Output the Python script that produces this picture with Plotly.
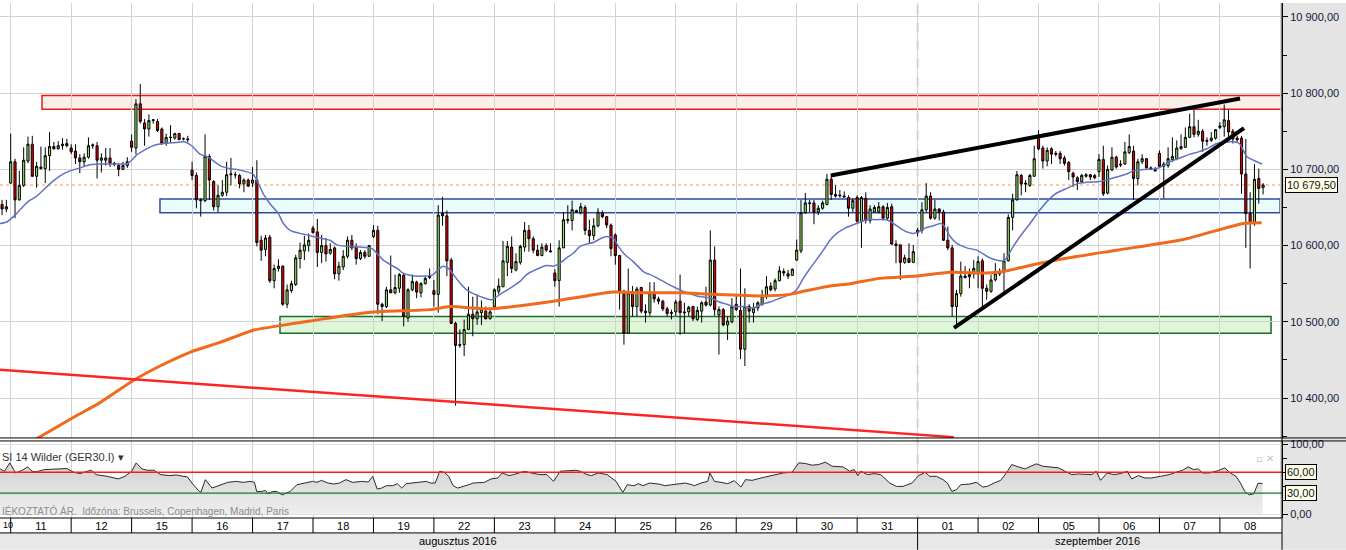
import plotly.graph_objects as go

# ---------------- data ----------------
day_labels = ['10', '11', '12', '15', '16', '17', '18', '19', '22', '23', '24',
              '25', '26', '29', '30', '31', '01', '02', '05', '06', '07', '08']
first_slot = [12] + [0] * 21          # first visible hourly slot of each day
n_candles = [2] + [14] * 20 + [11]    # visible hourly candles per day
SLOTS = 14                            # hourly candles per session

opens = [
    10654, 10648,
    10682, 10710, 10660, 10679, 10711, 10733, 10691, 10703, 10701, 10718, 10730, 10727, 10731, 10731,
    10728, 10724, 10715, 10710, 10716, 10731, 10731, 10712, 10712, 10715, 10708, 10705, 10700, 10705,
    10737, 10728, 10786, 10761, 10753, 10764, 10763, 10753, 10734, 10742, 10741, 10747, 10740, 10740,
    10699, 10692, 10660, 10659, 10717, 10684, 10651, 10666, 10670, 10693, 10693, 10692, 10681, 10686,
    10682, 10686, 10607, 10595, 10611, 10554, 10570, 10573, 10523, 10541, 10549, 10583, 10593, 10600,
    10623, 10618, 10591, 10600, 10590, 10597, 10563, 10572, 10586, 10607, 10598, 10583, 10591, 10586,
    10612, 10620, 10523, 10520, 10542, 10538, 10544, 10561, 10505, 10542, 10552, 10538, 10550, 10558,
    10541, 10536, 10642, 10639, 10581, 10498, 10469, 10470, 10490, 10510, 10504, 10512, 10514, 10504,
    10520, 10540, 10546, 10578, 10598, 10568, 10578, 10598, 10620, 10609, 10594, 10587, 10600, 10593,
    10564, 10554, 10597, 10633, 10633, 10646, 10643, 10650, 10620, 10613, 10626, 10643, 10638, 10627,
    10614, 10587, 10540, 10485, 10539, 10520, 10545, 10514, 10512, 10538, 10530, 10527, 10517, 10511,
    10513, 10527, 10513, 10513, 10520, 10503, 10514, 10526, 10522, 10581, 10509, 10516, 10496, 10500,
    10523, 10515, 10464, 10520, 10512, 10518, 10523, 10533, 10547, 10543, 10554, 10566, 10563, 10561,
    10581, 10593, 10643, 10655, 10656, 10644, 10649, 10654, 10687, 10667, 10665, 10665, 10663, 10649,
    10663, 10632, 10662, 10633, 10644, 10644, 10651, 10636, 10651, 10602, 10601, 10578, 10583, 10578,
    10617, 10620, 10647, 10665, 10636, 10648, 10644, 10607, 10597, 10520, 10537, 10560, 10559, 10563,
    10563, 10580, 10544, 10540, 10555, 10563, 10565, 10580, 10637, 10660, 10692, 10682, 10679, 10691,
    10744, 10728, 10711, 10727, 10721, 10721, 10715, 10709, 10695, 10689, 10684, 10691, 10693, 10692,
    10697, 10713, 10669, 10699, 10716, 10707, 10707, 10722, 10724, 10688, 10710, 10714, 10702, 10700,
    10721, 10704, 10705, 10713, 10714, 10727, 10729, 10742, 10756, 10746, 10750, 10738, 10738, 10741,
    10755, 10756, 10764, 10750, 10741, 10741, 10694, 10642, 10629, 10688, 10676,
]
highs = [
    10660, 10660,
    10747, 10714, 10698, 10729, 10743, 10744, 10710, 10730, 10729, 10749, 10736, 10737, 10741, 10740,
    10733, 10733, 10720, 10721, 10742, 10734, 10736, 10721, 10728, 10728, 10710, 10707, 10710, 10716,
    10746, 10792, 10812, 10766, 10772, 10766, 10766, 10755, 10747, 10758, 10748, 10748, 10742, 10744,
    10710, 10696, 10662, 10746, 10720, 10686, 10679, 10686, 10710, 10715, 10697, 10694, 10688, 10688,
    10703, 10712, 10613, 10614, 10614, 10575, 10582, 10574, 10549, 10554, 10588, 10604, 10613, 10616,
    10626, 10635, 10614, 10610, 10603, 10599, 10579, 10594, 10612, 10614, 10603, 10594, 10594, 10601,
    10627, 10626, 10525, 10546, 10587, 10562, 10564, 10564, 10544, 10562, 10554, 10552, 10560, 10570,
    10555, 10653, 10664, 10646, 10584, 10500, 10490, 10503, 10546, 10533, 10536, 10528, 10520, 10518,
    10544, 10557, 10606, 10606, 10612, 10590, 10601, 10631, 10627, 10612, 10601, 10603, 10603, 10603,
    10569, 10607, 10644, 10653, 10659, 10647, 10656, 10653, 10634, 10636, 10649, 10646, 10639, 10629,
    10616, 10588, 10542, 10570, 10547, 10546, 10546, 10523, 10552, 10552, 10533, 10529, 10520, 10516,
    10529, 10562, 10525, 10521, 10521, 10520, 10527, 10546, 10620, 10599, 10520, 10518, 10507, 10531,
    10536, 10570, 10544, 10523, 10525, 10527, 10542, 10560, 10552, 10557, 10573, 10570, 10568, 10570,
    10608, 10660, 10669, 10660, 10660, 10653, 10659, 10694, 10692, 10679, 10673, 10671, 10666, 10662,
    10666, 10665, 10670, 10653, 10653, 10657, 10653, 10656, 10655, 10607, 10601, 10588, 10603, 10601,
    10623, 10657, 10682, 10670, 10660, 10649, 10647, 10625, 10601, 10542, 10579, 10573, 10570, 10581,
    10586, 10583, 10549, 10562, 10577, 10570, 10590, 10641, 10668, 10698, 10694, 10686, 10694, 10731,
    10751, 10731, 10729, 10729, 10724, 10724, 10718, 10711, 10697, 10691, 10694, 10695, 10694, 10694,
    10720, 10731, 10705, 10729, 10718, 10712, 10736, 10746, 10731, 10714, 10720, 10715, 10704, 10703,
    10725, 10710, 10729, 10742, 10738, 10746, 10755, 10773, 10778, 10765, 10753, 10742, 10749, 10753,
    10762, 10785, 10778, 10753, 10744, 10744, 10740, 10670, 10707, 10701, 10682,
]
lows = [
    10640, 10644,
    10681, 10636, 10659, 10677, 10708, 10690, 10676, 10700, 10682, 10698, 10726, 10726, 10726, 10729,
    10720, 10707, 10695, 10703, 10714, 10727, 10688, 10696, 10705, 10703, 10704, 10691, 10699, 10702,
    10723, 10720, 10760, 10731, 10743, 10760, 10749, 10732, 10731, 10736, 10739, 10739, 10738, 10736,
    10686, 10649, 10638, 10657, 10660, 10646, 10644, 10664, 10665, 10679, 10688, 10675, 10670, 10677,
    10677, 10599, 10580, 10586, 10551, 10544, 10566, 10521, 10518, 10538, 10547, 10570, 10581, 10592,
    10616, 10572, 10577, 10579, 10588, 10556, 10554, 10568, 10583, 10594, 10575, 10581, 10583, 10585,
    10610, 10510, 10501, 10518, 10538, 10536, 10538, 10494, 10500, 10540, 10531, 10532, 10549, 10556,
    10520, 10512, 10626, 10560, 10497, 10390, 10466, 10455, 10489, 10481, 10496, 10496, 10503, 10503,
    10518, 10536, 10546, 10560, 10564, 10566, 10575, 10592, 10592, 10590, 10586, 10586, 10592, 10591,
    10546, 10520, 10597, 10629, 10620, 10643, 10641, 10614, 10603, 10607, 10624, 10636, 10623, 10586,
    10575, 10516, 10470, 10484, 10507, 10507, 10511, 10499, 10508, 10525, 10523, 10514, 10507, 10503,
    10507, 10483, 10485, 10507, 10501, 10501, 10499, 10520, 10520, 10508, 10457, 10494, 10476, 10498,
    10514, 10451, 10442, 10499, 10499, 10514, 10521, 10530, 10540, 10540, 10553, 10560, 10556, 10560,
    10580, 10590, 10642, 10644, 10628, 10640, 10647, 10653, 10660, 10663, 10663, 10663, 10638, 10644,
    10630, 10597, 10629, 10629, 10643, 10642, 10633, 10633, 10601, 10577, 10555, 10576, 10577, 10577,
    10612, 10616, 10644, 10634, 10634, 10633, 10606, 10594, 10507, 10494, 10533, 10557, 10544, 10557,
    10544, 10518, 10529, 10538, 10553, 10560, 10538, 10579, 10620, 10659, 10666, 10670, 10677, 10690,
    10725, 10701, 10704, 10707, 10717, 10707, 10705, 10686, 10677, 10673, 10682, 10689, 10686, 10687,
    10690, 10665, 10667, 10698, 10701, 10703, 10706, 10720, 10660, 10679, 10707, 10701, 10699, 10697,
    10703, 10662, 10702, 10710, 10712, 10726, 10728, 10741, 10742, 10743, 10723, 10731, 10736, 10739,
    10753, 10743, 10740, 10734, 10736, 10668, 10597, 10570, 10626, 10655, 10667,
]
closes = [
    10648, 10651,
    10710, 10660, 10679, 10712, 10733, 10691, 10704, 10701, 10718, 10730, 10727, 10731, 10733, 10734,
    10723, 10715, 10710, 10716, 10731, 10732, 10712, 10715, 10715, 10708, 10707, 10700, 10705, 10710,
    10729, 10786, 10763, 10753, 10764, 10765, 10751, 10734, 10742, 10742, 10747, 10739, 10740, 10739,
    10692, 10660, 10659, 10717, 10686, 10651, 10666, 10670, 10693, 10694, 10693, 10681, 10686, 10678,
    10686, 10604, 10594, 10610, 10554, 10570, 10573, 10523, 10542, 10550, 10584, 10594, 10601, 10607,
    10617, 10591, 10600, 10589, 10595, 10563, 10573, 10586, 10607, 10597, 10583, 10591, 10586, 10600,
    10620, 10523, 10520, 10542, 10538, 10545, 10562, 10507, 10542, 10553, 10539, 10550, 10557, 10560,
    10536, 10640, 10639, 10580, 10498, 10469, 10470, 10490, 10510, 10504, 10513, 10517, 10504, 10513,
    10542, 10547, 10580, 10599, 10570, 10579, 10599, 10620, 10609, 10594, 10587, 10598, 10594, 10592,
    10554, 10597, 10634, 10634, 10647, 10644, 10651, 10620, 10613, 10626, 10644, 10638, 10627, 10596,
    10587, 10540, 10485, 10538, 10520, 10543, 10514, 10512, 10538, 10530, 10527, 10517, 10511, 10512,
    10526, 10512, 10512, 10519, 10504, 10515, 10525, 10522, 10581, 10516, 10516, 10496, 10501, 10520,
    10516, 10464, 10520, 10514, 10518, 10525, 10534, 10546, 10542, 10554, 10567, 10564, 10560, 10569,
    10594, 10643, 10656, 10656, 10644, 10649, 10656, 10687, 10667, 10665, 10666, 10664, 10649, 10659,
    10632, 10663, 10633, 10648, 10650, 10651, 10636, 10650, 10602, 10600, 10578, 10584, 10578, 10592,
    10620, 10647, 10665, 10636, 10648, 10644, 10607, 10597, 10520, 10537, 10560, 10558, 10562, 10570,
    10579, 10544, 10540, 10555, 10563, 10564, 10580, 10637, 10660, 10693, 10681, 10681, 10692, 10714,
    10727, 10711, 10725, 10720, 10720, 10714, 10708, 10697, 10690, 10684, 10692, 10693, 10690, 10689,
    10713, 10668, 10700, 10716, 10703, 10706, 10723, 10730, 10688, 10710, 10714, 10702, 10700, 10698,
    10704, 10707, 10714, 10717, 10728, 10730, 10742, 10756, 10746, 10750, 10737, 10737, 10741, 10752,
    10757, 10765, 10749, 10740, 10739, 10694, 10642, 10629, 10687, 10675, 10679.5,
]

# fast moving average (blue): position in days, value
ma_fast_x = [0.823, 0.934, 1.071, 1.154, 1.291, 1.430, 1.567, 1.705, 1.870, 1.981,
             2.146, 2.312, 2.477, 2.642, 2.808, 2.919, 3.001, 3.084, 3.249, 3.387,
             3.524, 3.689, 3.883, 3.994, 4.131, 4.268, 4.462, 4.627, 4.793, 5.003,
             5.069, 5.178, 5.289, 5.426, 5.509, 5.620, 5.785, 5.950, 6.170, 6.281,
             6.392, 6.557, 6.777, 6.943, 6.997, 7.054, 7.163, 7.302, 7.411, 7.467,
             7.604, 7.824, 7.990, 8.073, 8.155, 8.238, 8.321, 8.431, 8.542, 8.680,
             8.845, 8.956, 9.093, 9.258, 9.424, 9.534, 9.700, 9.865, 9.975, 10.085,
             10.196, 10.306, 10.417, 10.527, 10.636, 10.775, 10.858, 10.967, 11.050, 11.161,
             11.298, 11.463, 11.629, 11.794, 11.960, 12.125, 12.346, 12.594, 12.687, 12.843,
             12.952, 13.118, 13.283, 13.422, 13.559, 13.725, 13.890, 14.000, 14.110, 14.220,
             14.331, 14.441, 14.551, 14.662, 14.800, 14.993, 15.158, 15.323, 15.489, 15.598,
             15.709, 15.820, 15.930, 16.013, 16.123, 16.261, 16.372, 16.427, 16.538, 16.648,
             16.814, 16.979, 17.145, 17.255, 17.417, 17.474, 17.584, 17.694, 17.860, 18.025,
             18.191, 18.301, 18.466, 18.632, 18.797, 19.017, 19.128, 19.293, 19.459, 19.568,
             19.734, 19.955, 20.066, 20.176, 20.341, 20.507, 20.643, 20.783, 20.948, 21.113,
             21.251, 21.322, 21.444, 21.554, 21.698]
ma_fast_y = [10629, 10631, 10640, 10647, 10658, 10665, 10675, 10685, 10694, 10698,
             10702, 10706, 10707, 10707, 10707, 10707, 10712, 10719, 10727, 10732,
             10734, 10735, 10736, 10731, 10720, 10716, 10705, 10701, 10699, 10694,
             10686, 10668, 10655, 10642, 10629, 10620, 10616, 10613, 10609, 10607,
             10601, 10599, 10598, 10597, 10595, 10590, 10581, 10574, 10569, 10565,
             10561, 10560, 10562, 10569, 10573, 10570, 10562, 10551, 10542, 10536,
             10531, 10529, 10536, 10544, 10553, 10562, 10569, 10574, 10573, 10577,
             10584, 10590, 10599, 10602, 10604, 10610, 10612, 10610, 10599, 10588,
             10579, 10566, 10560, 10553, 10546, 10540, 10534, 10531, 10527, 10523,
             10520, 10520, 10518, 10523, 10526, 10531, 10536, 10542, 10557, 10570,
             10582, 10594, 10607, 10616, 10623, 10629, 10634, 10634, 10634, 10629,
             10623, 10618, 10616, 10618, 10623, 10626, 10629, 10627, 10612, 10603,
             10597, 10594, 10586, 10582, 10580, 10584, 10599, 10612, 10629, 10647,
             10662, 10669, 10675, 10681, 10683, 10684, 10686, 10690, 10694, 10698,
             10700, 10701, 10705, 10710, 10715, 10720, 10723, 10727, 10734, 10736,
             10736, 10734, 10717, 10712, 10707]

# slow moving average (orange)
ma_slow_x = [1.154, 2.092, 2.477, 3.028, 3.469, 3.965, 4.462, 5.013, 5.454, 5.950,
             6.501, 6.997, 7.935, 8.266, 8.873, 9.424, 9.975, 10.527, 10.967, 11.408,
             12.070, 12.621, 13.448, 13.890, 14.110, 14.551, 14.882, 15.378, 15.985, 16.537,
             17.144, 17.417, 17.805, 18.355, 19.293, 20.395, 21.387, 21.691]
ma_slow_y = [10334, 10377, 10394, 10423, 10442, 10460, 10473, 10489, 10495, 10501,
             10508, 10513, 10516, 10520, 10517, 10521, 10527, 10534, 10539, 10538,
             10538, 10536, 10534, 10536, 10540, 10547, 10550, 10557, 10560, 10565,
             10564, 10566, 10573, 10582, 10594, 10608, 10629, 10630]

# RSI 14 Wilder
rsi_x = [0.823, 0.897, 0.985, 1.081, 1.192, 1.281, 1.355, 1.414, 1.561, 1.709,
         1.931, 2.041, 2.152, 2.263, 2.337, 2.411, 2.595, 2.780, 2.890, 3.001,
         3.075, 3.171, 3.260, 3.370, 3.481, 3.629, 3.740, 3.850, 3.924, 3.998,
         4.109, 4.146, 4.220, 4.330, 4.441, 4.515, 4.589, 4.737, 4.847, 4.958,
         5.032, 5.069, 5.143, 5.216, 5.253, 5.327, 5.401, 5.490, 5.623, 5.733,
         5.918, 5.992, 6.066, 6.140, 6.250, 6.346, 6.435, 6.546, 6.656, 6.804,
         6.915, 6.988, 7.062, 7.136, 7.210, 7.321, 7.395, 7.468, 7.542, 7.653,
         7.764, 7.875, 7.948, 8.022, 8.096, 8.170, 8.244, 8.318, 8.392, 8.502,
         8.576, 8.650, 8.761, 8.835, 8.945, 9.056, 9.130, 9.241, 9.315, 9.425,
         9.499, 9.610, 9.757, 9.868, 9.979, 10.090, 10.200, 10.348, 10.422, 10.533,
         10.607, 10.717, 10.865, 11.013, 11.124, 11.197, 11.308, 11.382, 11.456, 11.567,
         11.714, 11.825, 11.936, 12.047, 12.157, 12.268,
         12.308, 12.418, 12.528, 12.565, 12.639, 12.749, 12.859, 12.969, 13.079, 13.153,
         13.263, 13.410, 13.520, 13.666, 13.777, 13.923, 14.034, 14.144, 14.254, 14.364,
         14.474, 14.584, 14.768, 14.878, 14.951, 15.010, 15.061, 15.172, 15.282, 15.392,
         15.539, 15.649, 15.759, 15.906, 16.016, 16.126, 16.200, 16.310, 16.420, 16.493,
         16.567, 16.640, 16.713, 16.860, 16.970, 17.081, 17.154, 17.264, 17.374, 17.448,
         17.558, 17.668, 17.778, 17.874, 17.962, 18.072, 18.182, 18.329, 18.439, 18.549,
         18.659, 18.769, 18.879, 18.953, 19.026, 19.136, 19.247, 19.357, 19.467, 19.540,
         19.650, 19.761, 19.871, 20.017, 20.164, 20.274, 20.385, 20.473, 20.568, 20.642,
         20.715, 20.825, 20.972, 21.082, 21.155, 21.266, 21.339, 21.412, 21.486, 21.559,
         21.633, 21.706]
rsi_y = [64.8, 61.5, 73.5, 59.0, 62.9, 67.7, 61.5, 60.5, 63.9, 64.8,
         65.3, 60.0, 58.1, 61.5, 62.9, 56.6, 54.2, 50.4, 54.2, 61.5,
         73.5, 64.8, 62.9, 62.9, 56.6, 55.2, 56.1, 54.2, 53.2, 44.5,
         33.4, 31.4, 49.4, 37.3, 40.7, 42.1, 45.5, 46.9, 45.5, 46.9,
         45.5, 32.4, 32.4, 33.9, 29.0, 32.4, 32.4, 27.6, 32.4, 42.1,
         45.5, 46.9, 45.5, 48.4, 44.5, 43.1, 44.5, 49.4, 45.5, 46.9,
         46.0, 54.2, 35.8, 37.3, 40.7, 40.7, 43.6, 37.3, 43.6, 44.5,
         45.5, 46.9, 44.5, 44.5, 61.5, 60.0, 54.2, 40.7, 37.3, 39.7,
         42.1, 44.5, 44.5, 45.5, 50.4, 51.8, 59.0, 55.2, 56.6, 59.0,
         61.5, 59.0, 56.6, 56.6, 46.9, 61.5, 62.4, 62.9, 61.5, 56.6,
         55.2, 59.0, 56.6, 46.9, 31.0, 42.1, 40.7, 43.6, 40.7, 44.5,
         43.1, 40.7, 42.1, 43.1, 44.5, 42.1,
         40.7, 44.5, 46.9, 59.0, 46.9, 45.5, 43.6, 47.9, 38.7, 49.4,
         48.4, 51.8, 54.2, 56.6, 59.0, 60.0, 73.5, 72.6, 70.2, 71.1,
         74.5, 68.7, 67.7, 61.5, 63.9, 55.2, 61.5, 56.6, 58.1, 56.6,
         44.5, 39.7, 39.7, 44.5, 55.2, 60.0, 54.2, 54.2, 49.4, 44.5,
         32.4, 34.8, 42.1, 43.1, 45.5, 38.7, 39.7, 44.5, 48.4, 56.6,
         71.1, 67.7, 64.8, 68.7, 72.1, 68.7, 67.7, 66.3, 61.5, 56.6,
         57.6, 56.6, 56.6, 61.5, 48.4, 59.0, 56.6, 58.1, 61.5, 50.4,
         55.2, 51.8, 51.8, 54.2, 56.6, 60.0, 62.9, 67.7, 63.9, 64.8,
         59.0, 59.0, 62.4, 66.3, 60.0, 54.2, 44.5, 32.4, 27.6, 29.0,
         44.5, 43.6]

last_price = 10679.5
price_ticks = [10400, 10500, 10600, 10700, 10800, 10900]
price_tick_text = ['10 400,00', '10 500,00', '10 600,00', '10 700,00', '10 800,00', '10 900,00']
rsi_levels = [60, 30]

# drawn analysis objects (day position, price)
zone_red = dict(x0=1.518, x1=22.5, y0=10779, y1=10797)
zone_blue = dict(x0=3.469, x1=21.995, y0=10643, y1=10661)
zone_green = dict(x0=5.454, x1=21.846, y0=10485, y1=10507)
trend_red = dict(x0=0.823, y0=10437, x1=16.6, y1=10348.7)
trend_top = dict(x0=14.564, y0=10692, x1=21.333, y1=10793)
trend_bottom = dict(x0=16.602, y0=10492, x1=21.399, y1=10754)

# ---------------- geometry ----------------
W, H = 1346, 550
ML, MR, MT, MB = 0, 64, 0, 32
PW, PH = W - ML - MR, H - MT - MB      # 1282 x 518


def py(Y):
    return (PH - Y) / PH


def px(X):
    return X / PW


xs = []
for d, (s, n) in enumerate(zip(first_slot, n_candles)):
    for i in range(n):
        xs.append(d + (s + i) / SLOTS)

FONT = 'Liberation Sans, Arial, sans-serif'

fig = go.Figure()
fig.add_trace(go.Candlestick(
    x=xs, open=opens, high=highs, low=lows, close=closes,
    increasing=dict(line=dict(color='#000000', width=1), fillcolor='#93e263'),
    decreasing=dict(line=dict(color='#000000', width=1), fillcolor='#e30000'),
    whiskerwidth=0, showlegend=False, hoverinfo='skip', xaxis='x', yaxis='y'))
fig.add_trace(go.Scatter(x=ma_fast_x, y=ma_fast_y, mode='lines',
                         line=dict(color='#6272c4', width=1.5, shape='spline', smoothing=0.6),
                         showlegend=False, hoverinfo='skip', xaxis='x', yaxis='y'))
fig.add_trace(go.Scatter(x=ma_slow_x, y=ma_slow_y, mode='lines',
                         line=dict(color='#f06a1c', width=3, shape='spline', smoothing=0.6),
                         showlegend=False, hoverinfo='skip', xaxis='x', yaxis='y'))
fig.add_trace(go.Scatter(x=rsi_x, y=rsi_y, mode='lines', fill='tozeroy',
                         fillgradient=dict(type='vertical',
                                           colorscale=[[0, 'rgba(238,238,238,1)'],
                                                       [1, 'rgba(210,210,210,1)']]),
                         line=dict(color='#2a2a2a', width=1),
                         showlegend=False, hoverinfo='skip', xaxis='x', yaxis='y2'))

shapes = []
# zones
for z, fc, lc in [(zone_red, '#fbefea', '#e31c1c'),
                  (zone_blue, '#eafcfc', '#2f4c9f'),
                  (zone_green, '#e0f6d8', '#1d6a34')]:
    shapes.append(dict(type='rect', xref='x', yref='y', layer='below',
                       x0=z['x0'], x1=z['x1'], y0=z['y0'], y1=z['y1'],
                       fillcolor=fc, line=dict(color=lc, width=1.5)))
# last price dotted line
shapes.append(dict(type='line', xref='paper', yref='y', x0=0, x1=1, y0=last_price, y1=last_price,
                   layer='below', line=dict(color='#f0a040', width=1, dash='dot')))
# month separator (dashed)
shapes.append(dict(type='line', xref='x', yref='paper', x0=16, x1=16, y0=0, y1=1,
                   layer='below', line=dict(color='#d2d2d2', width=2, dash='dash')))
# trend lines
shapes.append(dict(type='line', xref='x', yref='y', line=dict(color='#ff2424', width=2.5),
                   x0=trend_red['x0'], y0=trend_red['y0'], x1=trend_red['x1'], y1=trend_red['y1']))
for t in (trend_top, trend_bottom):
    shapes.append(dict(type='line', xref='x', yref='y', line=dict(color='#000000', width=4),
                       x0=t['x0'], y0=t['y0'], x1=t['x1'], y1=t['y1']))
# RSI levels
shapes.append(dict(type='line', xref='paper', yref='y2', x0=0, x1=1, y0=rsi_levels[0], y1=rsi_levels[0],
                   line=dict(color='#ff1a1a', width=1.3)))
shapes.append(dict(type='line', xref='paper', yref='y2', x0=0, x1=1, y0=rsi_levels[1], y1=rsi_levels[1],
                   line=dict(color='#1f7a1f', width=1.3)))
# right axis gray area and month row
shapes.append(dict(type='rect', xref='paper', yref='paper', x0=1, x1=px(W), y0=py(H), y1=1,
                   layer='below', fillcolor='#e4e4e4', line=dict(width=0)))
shapes.append(dict(type='rect', xref='paper', yref='paper', x0=0, x1=1, y0=py(H), y1=py(533),
                   layer='below', fillcolor='#e8e8e8', line=dict(width=0)))
# double separator between panels
for Y in (437.5, 440.5):
    shapes.append(dict(type='line', xref='paper', yref='paper', x0=0, x1=px(W), y0=py(Y), y1=py(Y),
                       line=dict(color='#000000', width=1)))
# day row borders
for Y in (518, 533):
    shapes.append(dict(type='line', xref='paper', yref='paper', x0=0, x1=1, y0=py(Y), y1=py(Y),
                       line=dict(color='#000000', width=1)))
for d in range(1, len(day_labels)):
    shapes.append(dict(type='line', xref='x', yref='paper', x0=d, x1=d, y0=py(518), y1=py(533),
                       line=dict(color='#000000', width=1)))
shapes.append(dict(type='line', xref='x', yref='paper', x0=16, x1=16, y0=py(533), y1=py(H),
                   line=dict(color='#000000', width=1)))
shapes.append(dict(type='line', xref='paper', yref='paper', x0=1, x1=1, y0=py(H), y1=1,
                   line=dict(color='#000000', width=1)))

annotations = [
    dict(xref='paper', yref='y', x=px(1285), y=last_price, xanchor='left', yanchor='middle',
         text='10 679,50', showarrow=False, bgcolor='#ffffe1', bordercolor='#000000',
         borderwidth=1, borderpad=1, font=dict(family=FONT, size=11, color='#111133')),
    dict(xref='paper', yref='y2', x=px(1285), y=60, xanchor='left', yanchor='middle',
         text='60,00', showarrow=False, bgcolor='#ffffe1', bordercolor='#000000',
         borderwidth=1, borderpad=1, font=dict(family=FONT, size=11, color='#111133')),
    dict(xref='paper', yref='y2', x=px(1285), y=30, xanchor='left', yanchor='middle',
         text='30,00', showarrow=False, bgcolor='#ffffe1', bordercolor='#000000',
         borderwidth=1, borderpad=1, font=dict(family=FONT, size=11, color='#111133')),
    dict(xref='paper', yref='paper', x=0, y=py(457), xanchor='left', yanchor='middle',
         text='SI 14 Wilder (GER30.I) ▾', showarrow=False,
         font=dict(family=FONT, size=11, color='#333333')),
    dict(xref='paper', yref='paper', x=0, y=py(511), xanchor='left', yanchor='middle',
         text='IÉKOZTATÓ ÁR.  Időzóna: Brussels, Copenhagen, Madrid, Paris', showarrow=False,
         font=dict(family=FONT, size=10, color='#8c8c8c')),
    dict(xref='paper', yref='paper', x=px(1265), y=py(458), xanchor='center', yanchor='middle',
         text='▫ ✕', showarrow=False, font=dict(family='DejaVu Sans', size=10, color='#c4c4c4')),
    dict(xref='x', yref='paper', x=8.4, y=py(541.5), xanchor='center', yanchor='middle',
         text='augusztus 2016', showarrow=False, font=dict(family=FONT, size=11, color='#000000')),
    dict(xref='x', yref='paper', x=18.97, y=py(541.5), xanchor='center', yanchor='middle',
         text='szeptember 2016', showarrow=False, font=dict(family=FONT, size=11, color='#000000')),
    dict(xref='paper', yref='paper', x=px(0.5), y=py(525.5), xanchor='left', yanchor='middle',
         text=day_labels[0], showarrow=False, font=dict(family=FONT, size=9, color='#000000')),
]

fig.update_layout(
    width=W, height=H, margin=dict(l=ML, r=MR, t=MT, b=MB, pad=0),
    paper_bgcolor='#ffffff', plot_bgcolor='#ffffff',
    showlegend=False, hovermode=False,
    shapes=shapes, annotations=annotations,
    xaxis=dict(range=[0.823, 22.027], anchor='y2', domain=[0, 1],
               tickmode='array', tickvals=[d + 0.5 for d in range(1, len(day_labels))],
               ticktext=day_labels[1:], ticks='', showgrid=False, zeroline=False, showline=False,
               tickfont=dict(family=FONT, size=11, color='#000000'),
               minor=dict(tickmode='array', tickvals=list(range(0, 23)), showgrid=True,
                          gridcolor='#d2d2d2', gridwidth=1, ticks=''),
               rangeslider=dict(visible=False), fixedrange=True),
    yaxis=dict(domain=[py(437.5), 1], range=[10347.6, 10918.3], side='right', anchor='x',
               tickmode='array', tickvals=price_ticks, ticktext=price_tick_text,
               showgrid=True, gridcolor='#d2d2d2', gridwidth=1, zeroline=False,
               ticks='outside', ticklen=5, tickcolor='#000000', showline=True, linecolor='#000000',
               minor=dict(tickmode='array', tickvals=[10350, 10450, 10550, 10650, 10750, 10850],
                          ticks='outside', ticklen=4, tickcolor='#000000', showgrid=False),
               tickfont=dict(family=FONT, size=11, color='#141440'), fixedrange=True),
    yaxis2=dict(domain=[0, py(440.5)], range=[-5.71, 105], side='right', anchor='x',
                tickmode='array', tickvals=[0, 100], ticktext=['0,00', '100,00'],
                showgrid=True, gridcolor='#e2e2e2', zeroline=False,
                ticks='outside', ticklen=5, tickcolor='#000000', showline=True, linecolor='#000000',
                minor=dict(tickmode='array', tickvals=[20, 40, 60, 80], ticks='outside', ticklen=4,
                           tickcolor='#000000', showgrid=False),
                tickfont=dict(family=FONT, size=11, color='#141440'), fixedrange=True),
)

fig.write_html('out.html')
